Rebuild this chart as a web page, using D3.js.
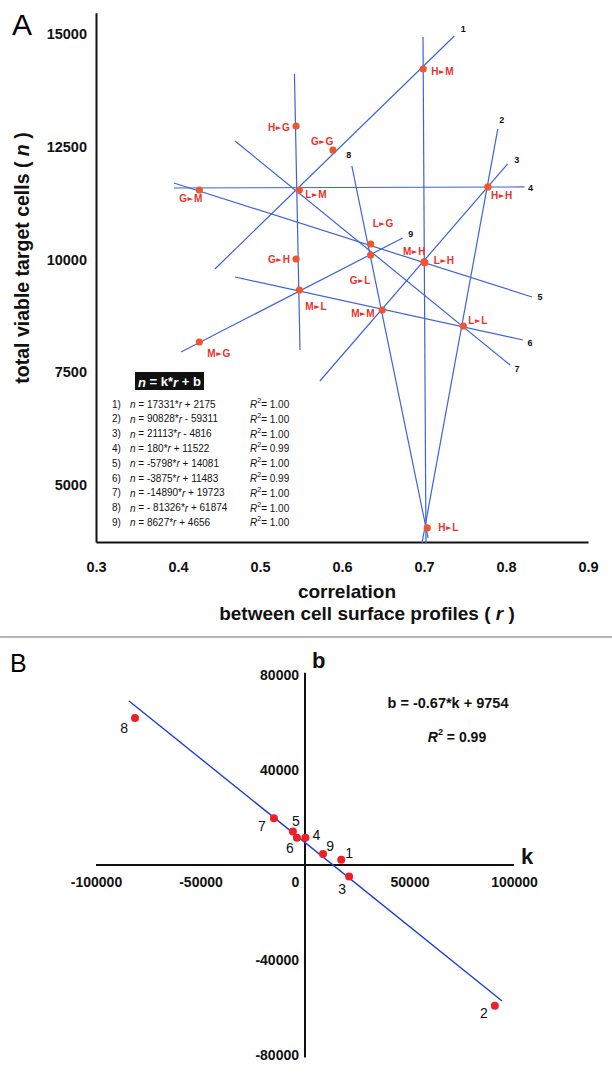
<!DOCTYPE html>
<html><head><meta charset="utf-8">
<script src="https://cdn.jsdelivr.net/npm/d3@7"></script>
<style>
body{margin:0;background:#fff;}
svg{display:block;font-family:"Liberation Sans",Arial,sans-serif;}
</style></head>
<body>
<svg id="chart" width="612" height="1074"></svg>
<script>
// ---------- Panel A data ----------
const xTicksA = [0.3, 0.4, 0.5, 0.6, 0.7, 0.8, 0.9];
const yTicksA = [5000, 7500, 10000, 12500, 15000];
const pairNames = ["H▸M","H▸G","G▸G","L▸M","G▸M","H▸H","L▸G","G▸L","G▸H","M▸H","L▸H","M▸L","M▸M","L▸L","M▸G","H▸L"];
const pairR = [0.699,0.544,0.589,0.548,0.426,0.778,0.635,0.635,0.544,0.700,0.701,0.548,0.649,0.748,0.426,0.704];
const pairN = [14224,12960,12428,11541,11541,11608,10344,10100,10011,9945,9930,9324,8880,8525,8171,4047];
const pairLabelDx = [8,-28,-22,6,-20,3,2,-21,-28,-21,9,6,-31,5,8,11];
const pairLabelDy = [2,1,-9,4,8,8,-21,25,0,-11,-3,16,3,-6,11,-1];

const lineIds = ["1","2","3","4","5","6","7","8","9","",""];
const lineR1 = [0.445,0.6976,0.573,0.395,0.395,0.4695,0.4695,0.612,0.4037,0.542,0.6988];
const lineN1 = [9789,3714,7306,11585,11696,9612,12628,12073,7949,14113,14933];
const lineR2 = [0.737,0.790,0.802,0.8226,0.8317,0.8207,0.805,0.705,0.674,0.5488,0.7024];
const lineN2 = [14956,12894,12118,11608,9169,8215,7661,3825,10477,7993,3714];
const lineLabelDx = [9,4,9,6,8,7,7,-3,8,0,0];
const lineLabelDy = [-7,-9,-4,1,0,3,4,-11,-4,0,0];
const lineLabelAtStart = [false,false,false,false,false,false,false,true,false,false,false];

const eqNums = ["1)","2)","3)","4)","5)","6)","7)","8)","9)"];
const eqK = ["17331","90828","21113","180","-5798","-3875","-14890","- 81326","8627"];
const eqB = ["+ 2175","- 59311","- 4816","+ 11522","+ 14081","+ 11483","+ 19723","+ 61874","+ 4656"];
const eqR2 = ["1.00","1.00","1.00","0.99","1.00","0.99","1.00","1.00","1.00"];

// ---------- Panel B data ----------
const kVals = [17331,90828,21113,180,-5798,-3875,-14890,-81326,8627];
const bVals = [2175,-59311,-4816,11522,14081,11483,19723,61874,4656];
const kbLabelDx = [8,-11,-7,11,3,-7,-12,-11,7];
const kbLabelDy = [-7,7,13,-3,-11,10,8,10,-8];
const fitK = [-84200, 94300];
const fitB = [69050, -57260];
const xTicksB = [-100000,-50000,0,50000,100000];
const yTicksB = [80000,40000,-40000,-80000];

const svg = d3.select("#chart");
const blue = "#3d63dc";
const orange = "#f0562a";
const redText = "#e8322c";

// ===== Panel A =====
const xA = d3.scaleLinear().domain([0.3, 0.9]).range([96, 588]);
const yA = d3.scaleLinear().domain([3736, 15472]).range([542, 12.7]);

const gA = svg.append("g");
gA.append("text").attr("x", 12).attr("y", 35).attr("font-size", 30).text("A");

const axL = gA.append("g").attr("transform","translate(96,0)")
  .call(d3.axisLeft(yA).tickValues(yTicksA).tickSize(0).tickPadding(9).tickFormat(d=>String(d)));
const axB = gA.append("g").attr("transform","translate(0,542)")
  .call(d3.axisBottom(xA).tickValues(xTicksA).tickSize(0).tickPadding(20).tickFormat(d3.format(".1f")));
[axL, axB].forEach(a=>{
  a.select(".domain").attr("stroke","#111").attr("stroke-width",2);
  a.selectAll("text").attr("font-size",14.5).attr("font-weight","bold").attr("fill","#111")
   .attr("font-family","'Liberation Sans',Arial,sans-serif");
});

// lines
gA.append("g").selectAll("line").data(lineIds).join("line")
  .attr("x1",(d,i)=>xA(lineR1[i])).attr("y1",(d,i)=>yA(lineN1[i]))
  .attr("x2",(d,i)=>xA(lineR2[i])).attr("y2",(d,i)=>yA(lineN2[i]))
  .attr("stroke",blue).attr("stroke-width",1.2);
gA.append("g").selectAll("text").data(lineIds).join("text")
  .attr("x",(d,i)=>(lineLabelAtStart[i]?xA(lineR1[i]):xA(lineR2[i]))+lineLabelDx[i])
  .attr("y",(d,i)=>(lineLabelAtStart[i]?yA(lineN1[i]):yA(lineN2[i]))+lineLabelDy[i])
  .attr("text-anchor","middle").attr("dominant-baseline","central")
  .attr("font-size",9).attr("font-weight","bold").attr("fill","#111").text(d=>d);

// points
gA.append("g").selectAll("circle").data(pairNames).join("circle")
  .attr("cx",(d,i)=>xA(pairR[i])).attr("cy",(d,i)=>yA(pairN[i])).attr("r",3.6)
  .attr("fill",orange);
const pl = gA.append("g").selectAll("text").data(pairNames).join("text")
  .attr("x",(d,i)=>xA(pairR[i])+pairLabelDx[i]).attr("y",(d,i)=>yA(pairN[i])+pairLabelDy[i])
  .attr("dominant-baseline","central").attr("font-size",10).attr("font-weight","bold")
  .attr("fill",redText);
pl.each(function(d){
  const t = d3.select(this);
  const parts = d.split("▸");
  t.append("tspan").text(parts[0]);
  t.append("tspan").attr("font-size",7.5).attr("font-family","DejaVu Sans").attr("dx",0.5).text("►");
  t.append("tspan").attr("dx",0.5).text(parts[1]);
});

// axis titles
gA.append("text").attr("transform","translate(22,258) rotate(-90)").attr("text-anchor","middle")
  .attr("dominant-baseline","central").attr("font-size",19.5).attr("font-weight","bold").attr("fill","#111")
  .html('total viable target cells ( <tspan font-style="italic">n</tspan> )');
gA.append("text").attr("x",347).attr("y",591).attr("text-anchor","middle").attr("dominant-baseline","central")
  .attr("font-size",19).attr("font-weight","bold").attr("fill","#111").text("correlation");
gA.append("text").attr("x",367).attr("y",613).attr("text-anchor","middle").attr("dominant-baseline","central")
  .attr("font-size",19).attr("font-weight","bold").attr("fill","#111")
  .html('between cell surface profiles ( <tspan font-style="italic">r</tspan> )');

// equation box
gA.append("rect").attr("x",135).attr("y",372).attr("width",69).attr("height",18).attr("fill","#111");
gA.append("text").attr("x",169.5).attr("y",381.5).attr("text-anchor","middle").attr("dominant-baseline","central")
  .attr("font-size",13).attr("font-weight","bold").attr("fill","#fff")
  .html('<tspan font-style="italic">n</tspan> = k*<tspan font-style="italic">r</tspan> + b');
const eqG = gA.append("g").attr("font-size",10).attr("fill","#111");
eqNums.forEach((num,i)=>{
  const y = 404 + i*14.8;
  eqG.append("text").attr("x",112).attr("y",y).attr("dominant-baseline","central").text(num);
  eqG.append("text").attr("x",130).attr("y",y).attr("dominant-baseline","central")
    .html(`<tspan font-style="italic">n</tspan> = ${eqK[i]}*<tspan font-style="italic">r</tspan> ${eqB[i]}`);
  eqG.append("text").attr("x",250).attr("y",y).attr("dominant-baseline","central")
    .html(`<tspan font-style="italic">R</tspan><tspan dy="-4" font-size="7">2</tspan><tspan dy="4">= ${eqR2[i]}</tspan>`);
});

// divider
svg.append("line").attr("x1",0).attr("x2",612).attr("y1",637).attr("y2",637)
  .attr("stroke","#b5b5b5").attr("stroke-width",2);

// ===== Panel B =====
const xB = d3.scaleLinear().domain([-100000,100000]).range([96,514]);
const yB = d3.scaleLinear().domain([-80000,80000]).range([1055,675]);
const gB = svg.append("g");
gB.append("text").attr("x",10).attr("y",672).attr("font-size",25).text("B");

const axBy = gB.append("g").attr("transform",`translate(${xB(0)},0)`)
  .call(d3.axisLeft(yB).tickValues(yTicksB).tickSize(0).tickPadding(6).tickFormat(d=>String(d)));
const axBx = gB.append("g").attr("transform",`translate(0,${yB(0)})`)
  .call(d3.axisBottom(xB).tickValues(xTicksB).tickSize(0).tickPadding(12).tickFormat(d=>String(d)));
[axBy, axBx].forEach(a=>{
  a.select(".domain").remove();
  a.selectAll("text").attr("font-size",14).attr("font-weight","bold").attr("fill","#111")
   .attr("font-family","'Liberation Sans',Arial,sans-serif");
});
axBx.selectAll(".tick text").filter(d=>d===0).attr("dx",-10);
gB.append("line").attr("x1",xB(0)).attr("x2",xB(0)).attr("y1",yB(81000)).attr("y2",yB(-81000))
  .attr("stroke","#111").attr("stroke-width",2);
gB.append("line").attr("x1",xB(-100000)).attr("x2",xB(100000)).attr("y1",yB(0)).attr("y2",yB(0))
  .attr("stroke","#111").attr("stroke-width",2);
gB.append("text").attr("x",xB(0)+7).attr("y",660).attr("dominant-baseline","central")
  .attr("font-size",22).attr("font-weight","bold").attr("fill","#111").text("b");
gB.append("text").attr("x",521).attr("y",856).attr("dominant-baseline","central")
  .attr("font-size",22).attr("font-weight","bold").attr("fill","#111").text("k");

gB.append("line").attr("x1",xB(fitK[0])).attr("y1",yB(fitB[0])).attr("x2",xB(fitK[1])).attr("y2",yB(fitB[1]))
  .attr("stroke","#1f3fd6").attr("stroke-width",1.4);
gB.append("g").selectAll("circle").data(kVals).join("circle")
  .attr("cx",d=>xB(d)).attr("cy",(d,i)=>yB(bVals[i])).attr("r",4).attr("fill","#ee1f26");
gB.append("g").selectAll("text").data(kVals).join("text")
  .attr("x",(d,i)=>xB(d)+kbLabelDx[i]).attr("y",(d,i)=>yB(bVals[i])+kbLabelDy[i])
  .attr("text-anchor","middle").attr("dominant-baseline","central").attr("font-size",14).attr("fill","#111")
  .text((d,i)=>String(i+1));

gB.append("text").attr("x",448).attr("y",703).attr("text-anchor","middle").attr("dominant-baseline","central")
  .attr("font-size",14.5).attr("font-weight","bold").attr("fill","#111").text("b = -0.67*k + 9754");
gB.append("text").attr("x",457).attr("y",737).attr("text-anchor","middle").attr("dominant-baseline","central")
  .attr("font-size",14).attr("font-weight","bold").attr("fill","#111")
  .html('<tspan font-style="italic">R</tspan><tspan dy="-5" font-size="9">2</tspan><tspan dy="5"> = 0.99</tspan>');
</script>
</body></html>
